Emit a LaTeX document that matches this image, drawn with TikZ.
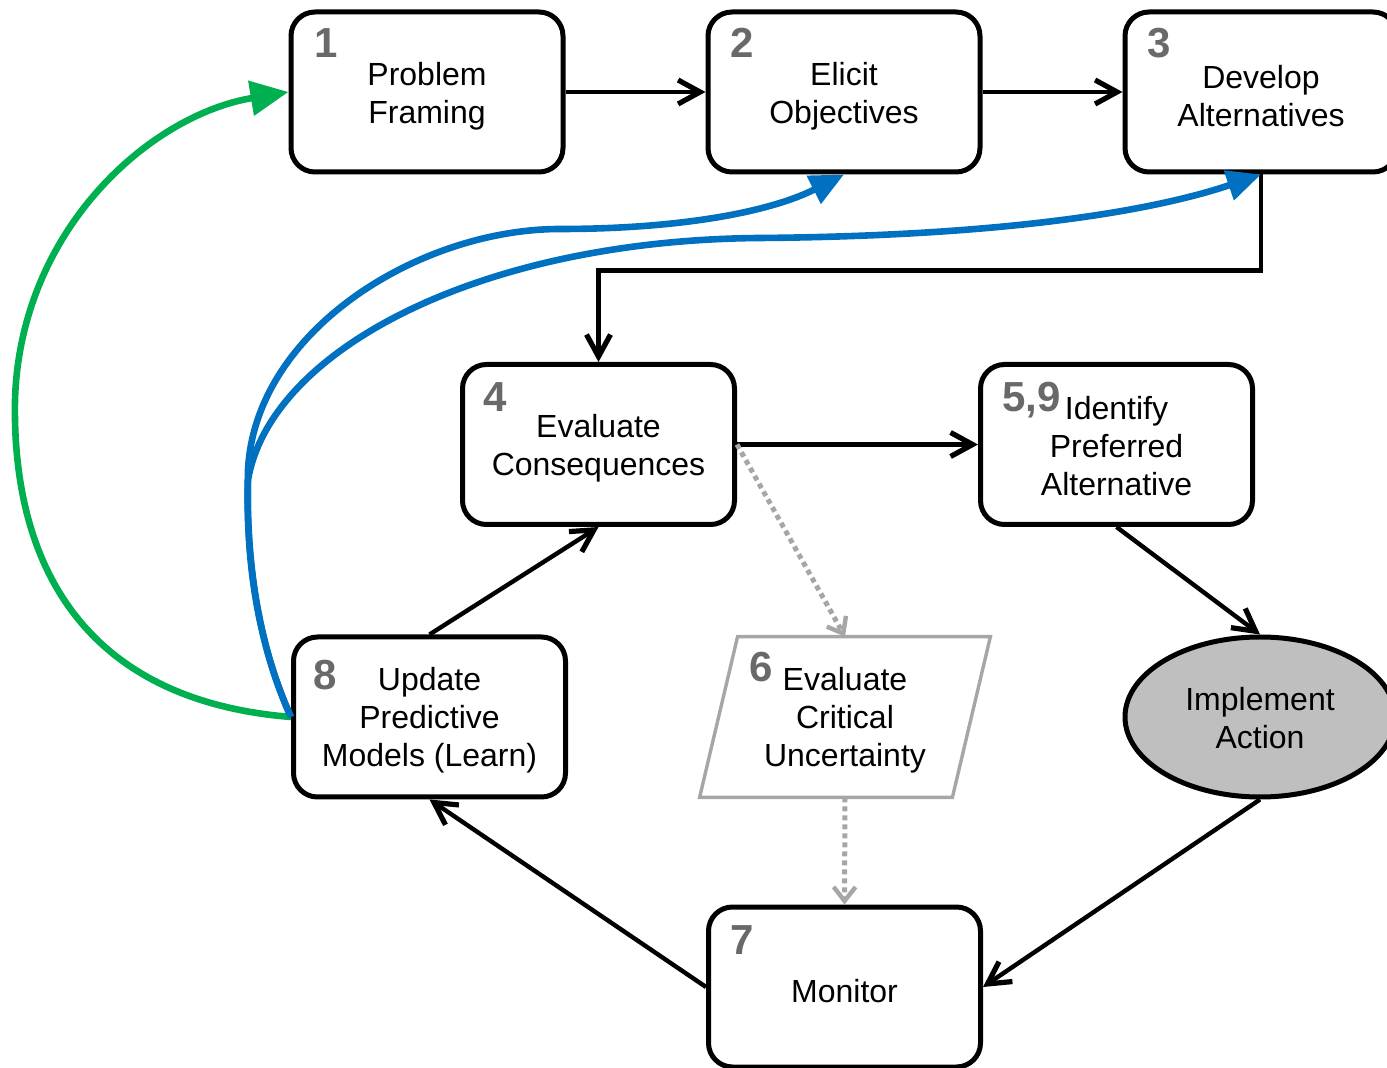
\documentclass[tikz,border=0pt]{standalone}
\usepackage{fontspec}
\setmainfont{Liberation Sans}
\usetikzlibrary{arrows.meta,shapes.geometric,calc}
\definecolor{numgray}{RGB}{105,105,105}
\definecolor{fbblue}{RGB}{0,112,192}
\definecolor{fbgreen}{RGB}{0,176,80}
\definecolor{lightgr}{RGB}{166,166,166}
\definecolor{ellfill}{RGB}{191,191,191}
\tikzset{
  box/.style={draw=black, line width=2.5pt, rounded corners=12pt, minimum width=136pt, minimum height=80pt, inner sep=0pt, fill=white},
  boxtext/.style={align=center, inner sep=0pt, font=\fontsize{16}{19}\selectfont},
  paranode/.style={minimum width=145pt, minimum height=80pt, inner sep=0pt},
  paraline/.style={draw=lightgr, line width=1.7pt, line join=miter},
  ellnode/.style={ellipse, draw=black, line width=2.5pt, fill=ellfill, minimum width=135pt, minimum height=80pt, inner sep=0pt},
  numlbl/.style={anchor=base west, inner sep=0pt, text=numgray, font=\fontsize{21}{21}\selectfont\bfseries},
  arr/.style={draw=black, line width=2.2pt, -{Straight Barb[length=11pt,width=12pt,line width=2.6pt]}},
  dotarr/.style={draw=lightgr, line width=2.5pt, dash pattern=on 2.5pt off 2pt, -{Straight Barb[length=7pt,width=11pt,line width=2.2pt]}},
  fbb/.style={draw=fbblue, line width=3.3pt, -{Triangle[length=17pt,width=15pt]}},
  fbg/.style={draw=fbgreen, line width=3.3pt, -{Triangle[length=19pt,width=17pt]}},
}
\begin{document}
\begin{tikzpicture}[x=0.5pt,y=-0.5pt]
\useasboundingbox (0,0) rectangle (1387,1068);
% boxes
\node[box] (n1) at (427,92) {};
\node[box] (n2) at (844,92) {};
\node[box] (n3) at (1261,92) {};
\node[box] (n4) at (598.5,444.5) {};
\node[box] (n59) at (1116.5,444.5) {};
\node[box] (n8) at (429.5,717) {};
\node[box] (n7) at (844.5,987) {};
\node[paranode] (n6) at (845,717) {};
\draw[paraline] ($(n6.north west)+(38,0)$) -- (n6.north east) -- ($(n6.south east)-(38,0)$) -- (n6.south west) -- cycle;
\node[ellnode] (ell) at (1260,717) {};
% texts
\node[boxtext] (t1) at ($(n1.center)+(0,4)$) {Problem\\Framing};
\node[boxtext] (t2) at ($(n2.center)+(0,4)$) {Elicit\\Objectives};
\node[boxtext] (t3) at ($(n3.center)+(0,4)$) {Develop\\Alternatives};
\node[boxtext] (t4) at ($(n4.center)+(0,4)$) {Evaluate\\Consequences};
\node[boxtext] (t59) at ($(n59.center)+(0,2)$) {Identify\\Preferred\\Alternative};
\node[boxtext] (t8) at ($(n8.center)+(0,3)$) {Update\\Predictive\\Models (Learn)};
\node[boxtext] (t7) at ($(n7.center)+(0,4)$) {Monitor};
\node[boxtext] (t6) at ($(n6.center)+(0,3)$) {Evaluate\\Critical\\Uncertainty};
\node[boxtext] (tell) at ($(ell.center)+(0,1)$) {Implement\\Action};
% numbers
\node[numlbl] (l1) at (314,58) {1};
\node[numlbl] (l2) at (730,58) {2};
\node[numlbl] (l3) at (1147,58) {3};
\node[numlbl] (l4) at (483,412) {4};
\node[numlbl] (l59) at (1002,412) {5,9};
\node[numlbl] (l6) at (749,682) {6};
\node[numlbl] (l7) at (730,954) {7};
\node[numlbl] (l8) at (313,690) {8};
% black connectors
\draw[arr] (n1.east) -- (n2.west);
\draw[arr] (n2.east) -- (n3.west);
\draw[arr] (n3.south) -- ++(0,96) -| (n4.north);
\draw[arr] (n4.east) -- (n59.west);
\draw[arr] (n59.south) -- (ell.north);
\draw[arr] (ell.south) -- (n7.east);
\draw[arr] (n7.west) -- (n8.south);
\draw[arr] (n8.north) -- (n4.south);
% dotted gray
\draw[dotarr] (n4.east) -- (n6.north);
\draw[dotarr] (n6.south) -- (n7.north);
% feedback
\draw[fbg] (n8.west) .. controls (80,700) and (12,560) .. (15,400) .. controls (20,230) and (150,115) .. (n1.west);
\draw[fbb] (n8.west) .. controls (265,660) and (245,580) .. (248,470) .. controls (255,330) and (420,229) .. (560,229) .. controls (680,229) and (770,212) .. (n2.south);
\draw[fbb] (n8.west) .. controls (265,660) and (245,580) .. (248,480) .. controls (270,350) and (480,240) .. (760,238) .. controls (1000,236) and (1150,212) .. (n3.south);
\end{tikzpicture}
\end{document}
